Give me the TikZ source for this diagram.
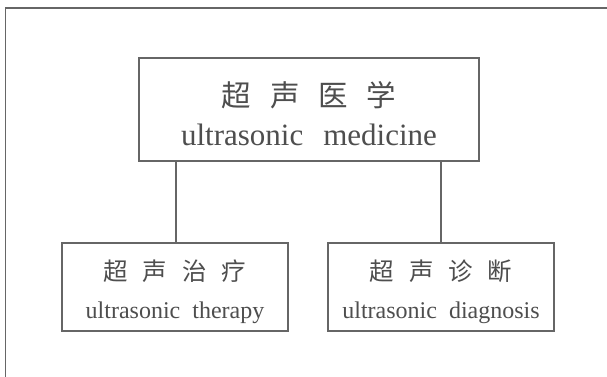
\documentclass[tikz,border=0pt]{standalone}
\usepackage{fontspec}
\setmainfont{Liberation Serif}
\newfontfamily\cjk{Noto Sans CJK SC}
\definecolor{ink}{HTML}{4E4E4E}
\definecolor{edge}{HTML}{666666}
\tikzset{
  boxnode/.style={draw=edge, line width=1.1pt, inner sep=0pt, rectangle},
  cntext/.style={text=ink, inner sep=0pt, anchor=center},
  entext/.style={text=ink, inner sep=0pt, anchor=base},
  link/.style={draw=edge, line width=1.1pt},
}
\begin{document}
\begin{tikzpicture}[x=1pt,y=-1pt]
\useasboundingbox (0,0) rectangle (607,377);
\fill[white] (0,0) rectangle (607,377);
% outer frame (only top and left visible)
\coordinate (fa) at (5.5,377);
\coordinate (fb) at (5.5,8);
\coordinate (fc) at (607,8);
\draw[link] (fa) -- (fb) -- (fc);
% boxes
\node[boxnode, minimum width=340pt, minimum height=103pt] (med) at (309,109.5) {};
\node[boxnode, minimum width=226pt, minimum height=88pt] (ther) at (175,287) {};
\node[boxnode, minimum width=226pt, minimum height=88pt] (diag) at (441,287) {};
% texts
\node[cntext, font=\cjk\fontsize{29.5}{29.5}\selectfont] (medcn) at (309,95) {超\hspace{19pt}声\hspace{19pt}医\hspace{19pt}学};
\node[entext, font=\fontsize{31}{31}\selectfont] (meden) at (309,146) {ultrasonic\hspace{20pt}medicine};
\node[cntext, font=\cjk\fontsize{24.5}{24.5}\selectfont] (thercn) at (175,271) {超\hspace{15pt}声\hspace{15pt}治\hspace{15pt}疗};
\node[entext, font=\fontsize{24}{24}\selectfont] (theren) at (175,318) {ultrasonic\hspace{12pt}therapy};
\node[cntext, font=\cjk\fontsize{24.5}{24.5}\selectfont] (diagcn) at (441,271) {超\hspace{15pt}声\hspace{15pt}诊\hspace{15pt}断};
\node[entext, font=\fontsize{24}{24}\selectfont] (diagen) at (441,318) {ultrasonic\hspace{12pt}diagnosis};
% connectors
\draw[link] (med.south -| 176,0) -- (ther.north -| 176,0);
\draw[link] (med.south -| diag.north) -- (diag.north);
\end{tikzpicture}
\end{document}
